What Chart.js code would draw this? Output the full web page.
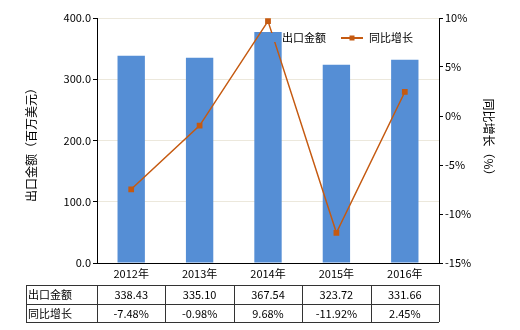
<!DOCTYPE html>
<html>
<head>
<meta charset="utf-8">
<script src="https://cdn.jsdelivr.net/npm/chart.js@4"></script>
<style>
  html, body { margin: 0; padding: 0; background: #fff; }
  #wrap { width: 520px; height: 330px; }
</style>
</head>
<body>
<div id="wrap"><canvas id="chart" width="520" height="330"></canvas></div>
<script>
const years = ['2012年', '2013年', '2014年', '2015年', '2016年'];
const exportAmount = [338.43, 335.10, 377.0, 323.72, 331.66];
const growth = [-7.48, -0.98, 9.68, -11.92, 2.45];
const amountLabels = ['338.43', '335.10', '367.54', '323.72', '331.66'];
const growthLabels = ['-7.48%', '-0.98%', '9.68%', '-11.92%', '2.45%'];
const rowNames = ['出口金额', '同比增长'];

const FONT = '"Noto Sans CJK SC", "DejaVu Sans", sans-serif';
const BAR = '#558ed5';
const LINE = '#c55a11';

const extras = {
    id: 'extras',
    afterDraw(chart) {
        const ctx = chart.ctx;
        const area = chart.chartArea;
        const x = chart.scales.x;
        ctx.save();
        ctx.fillStyle = '#000';

        // axis titles
        ctx.font = '12px ' + FONT;
        ctx.save();
        ctx.translate(31, 142);
        ctx.rotate(-Math.PI / 2);
        ctx.textAlign = 'center';
        ctx.textBaseline = 'middle';
        ctx.fillText('出口金额（百万美元）', 0, 0);
        ctx.restore();

        ctx.save();
        ctx.translate(489, 140);
        ctx.rotate(Math.PI / 2);
        ctx.textAlign = 'center';
        ctx.textBaseline = 'middle';
        ctx.fillText('同比增长（%）', 0, 0);
        ctx.restore();

        // legend
        ctx.font = '11px ' + FONT;
        ctx.fillStyle = BAR;
        ctx.fillRect(270, 33, 9, 9);
        ctx.fillStyle = '#000';
        ctx.textAlign = 'left';
        ctx.textBaseline = 'middle';
        ctx.fillText('出口金额', 282, 38);
        ctx.strokeStyle = LINE;
        ctx.lineWidth = 2;
        ctx.beginPath();
        ctx.moveTo(341, 38);
        ctx.lineTo(363, 38);
        ctx.stroke();
        ctx.fillStyle = LINE;
        ctx.fillRect(349.5, 35.5, 5, 5);
        ctx.fillStyle = '#000';
        ctx.fillText('同比增长', 369, 38);

        // table
        const left = 26, right = area.right;
        const rowTop = 285, rowH = 18.5;
        const step = (area.right - area.left) / years.length;
        ctx.strokeStyle = '#333';
        ctx.lineWidth = 1;
        ctx.beginPath();
        for (let r = 0; r <= 2; r++) {
            const yy = Math.round(rowTop + r * rowH) + 0.5;
            ctx.moveTo(left, yy);
            ctx.lineTo(right, yy);
        }
        const colX = [left, area.left];
        for (let i = 1; i <= years.length; i++) colX.push(area.left + i * step);
        colX.forEach(cx => {
            const xx = Math.round(cx) + 0.5;
            ctx.moveTo(xx, rowTop);
            ctx.lineTo(xx, rowTop + 2 * rowH);
        });
        ctx.stroke();

        const rows = [amountLabels, growthLabels];
        rows.forEach((vals, r) => {
            const cy = rowTop + r * rowH + rowH / 2 + 1;
            ctx.textAlign = 'left';
            ctx.fillText(rowNames[r], left + 2, cy);
            ctx.textAlign = 'center';
            vals.forEach((v, i) => {
                ctx.fillText(v, x.getPixelForValue(i), cy);
            });
        });
        ctx.restore();
    }
};

new Chart(document.getElementById('chart'), {
    data: {
        labels: years,
        datasets: [
            {
                type: 'line',
                label: '同比增长',
                data: growth,
                yAxisID: 'y1',
                borderColor: LINE,
                backgroundColor: LINE,
                borderWidth: 1.5,
                pointStyle: 'rect',
                pointRadius: 3,
                pointHoverRadius: 3,
                tension: 0,
                order: 0
            },
            {
                type: 'bar',
                label: '出口金额',
                data: exportAmount,
                yAxisID: 'y',
                backgroundColor: BAR,
                barPercentage: 0.4,
                categoryPercentage: 1.0,
                order: 1
            }
        ]
    },
    options: {
        responsive: false,
        animation: false,
        layout: { padding: { top: 18, left: 0, right: 0, bottom: 0 } },
        plugins: {
            legend: { display: false },
            tooltip: { enabled: false }
        },
        scales: {
            x: {
                offset: true,
                grid: { display: false, drawTicks: false },
                border: { color: '#000' },
                ticks: { color: '#000', font: { family: FONT, size: 11 }, padding: 4 },
                afterFit: s => { s.height = 67; }
            },
            y: {
                position: 'left',
                min: 0,
                max: 400,
                grid: { color: '#ece8dc', tickLength: 4, tickColor: '#000' },
                border: { color: '#000' },
                ticks: {
                    stepSize: 100,
                    color: '#000',
                    font: { family: FONT, size: 11 },
                    padding: 2,
                    callback: v => v.toFixed(1)
                },
                afterFit: s => { s.width = 97; }
            },
            y1: {
                position: 'right',
                min: -15,
                max: 10,
                grid: { drawOnChartArea: false, tickLength: 4, tickColor: '#000' },
                border: { color: '#000' },
                ticks: {
                    stepSize: 5,
                    color: '#000',
                    font: { family: FONT, size: 11 },
                    padding: 2,
                    callback: v => v + '%'
                },
                afterFit: s => { s.width = 81; }
            }
        }
    },
    plugins: [extras]
});
</script>
</body>
</html>
